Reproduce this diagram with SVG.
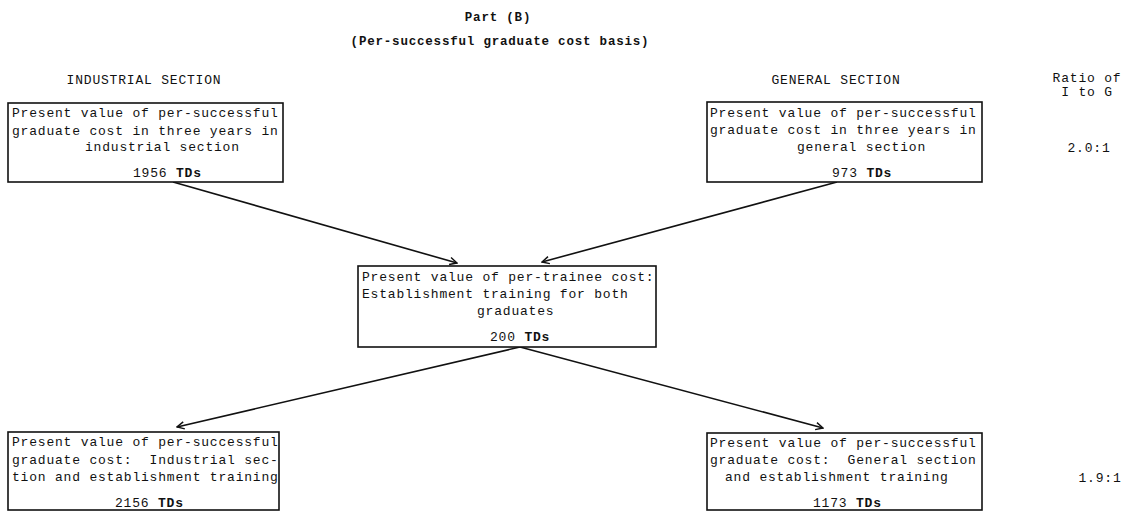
<svg xmlns="http://www.w3.org/2000/svg" width="1143" height="511" viewBox="0 0 1143 511">
<style>
text{font-family:"Liberation Mono","DejaVu Sans Mono",monospace;font-size:13px;letter-spacing:0.8px;fill:#111;white-space:pre}
.hd{font-weight:bold;font-size:12.5px}
.b{font-weight:bold}
.box{fill:#fff;stroke:#111;stroke-width:1.6}
.con{fill:none;stroke:#111;stroke-width:1.6}
</style>
<defs>
<marker id="ah" viewBox="0 0 10 10" refX="9" refY="5" markerWidth="9" markerHeight="9" orient="auto" markerUnits="userSpaceOnUse">
<path d="M1,1 L9,5 L1,9" fill="none" stroke="#111" stroke-width="1.6"/>
</marker>
</defs>
<rect width="1143" height="511" fill="#fff"/>
<g id="title">
<text class="hd" x="498" y="21" text-anchor="middle">Part (B)</text>
<text class="hd" x="500" y="45" text-anchor="middle">(Per-successful graduate cost basis)</text>
</g>
<g id="headers">
<text x="144" y="84" text-anchor="middle">INDUSTRIAL SECTION</text>
<text x="836" y="84" text-anchor="middle">GENERAL SECTION</text>
<text x="1087" y="82" text-anchor="middle">Ratio of</text>
<text x="1087" y="96" text-anchor="middle">I to G</text>
</g>
<g id="connectors">
<line class="con" x1="173" y1="182" x2="457" y2="263" marker-end="url(#ah)"/>
<line class="con" x1="837" y1="182" x2="542" y2="262" marker-end="url(#ah)"/>
<line class="con" x1="520" y1="347" x2="177" y2="427" marker-end="url(#ah)"/>
<line class="con" x1="520" y1="347" x2="823" y2="428" marker-end="url(#ah)"/>
</g>
<g id="node-top-left">
<rect class="box" x="8" y="103" width="275" height="79"/>
<text x="12" y="117">Present value of per-successful</text>
<text x="12" y="135">graduate cost in three years in</text>
<text x="85" y="151">industrial section</text>
<text x="133" y="177">1956 <tspan class="b">TDs</tspan></text>
</g>
<g id="node-top-right">
<rect class="box" x="707" y="102" width="275" height="80"/>
<text x="710" y="117">Present value of per-successful</text>
<text x="710" y="134">graduate cost in three years in</text>
<text x="797" y="151">general section</text>
<text x="832" y="177">973 <tspan class="b">TDs</tspan></text>
</g>
<g id="node-middle">
<rect class="box" x="358" y="266" width="298" height="81"/>
<text x="362" y="281">Present value of per-trainee cost:</text>
<text x="362" y="298">Establishment training for both</text>
<text x="477" y="315">graduates</text>
<text x="490" y="341">200 <tspan class="b">TDs</tspan></text>
</g>
<g id="node-bottom-left">
<rect class="box" x="8" y="432" width="271" height="78"/>
<text x="12" y="446">Present value of per-successful</text>
<text x="12" y="464">graduate cost:  Industrial sec-</text>
<text x="12" y="481">tion and establishment training</text>
<text x="115" y="507">2156 <tspan class="b">TDs</tspan></text>
</g>
<g id="node-bottom-right">
<rect class="box" x="707" y="433" width="275" height="77"/>
<text x="710" y="447">Present value of per-successful</text>
<text x="710" y="464">graduate cost:  General section</text>
<text x="725" y="481">and establishment training</text>
<text x="813" y="507">1173 <tspan class="b">TDs</tspan></text>
</g>
<g id="ratios">
<text x="1089" y="152" text-anchor="middle">2.0:1</text>
<text x="1100" y="482" text-anchor="middle">1.9:1</text>
</g>
</svg>
